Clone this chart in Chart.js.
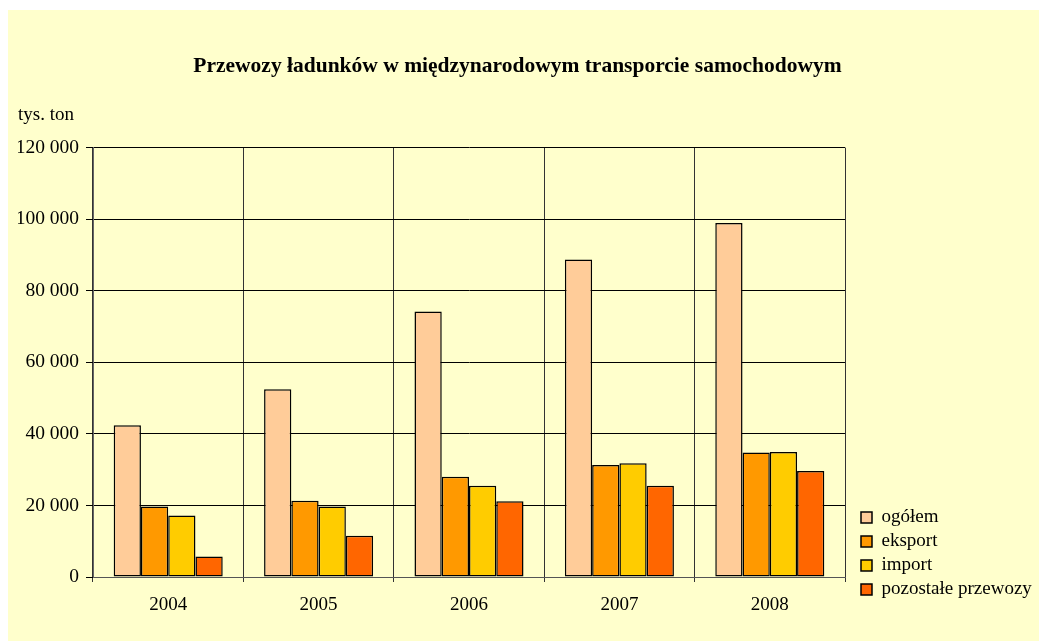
<!DOCTYPE html>
<html>
<head>
<meta charset="utf-8">
<script src="https://cdn.jsdelivr.net/npm/chart.js@4/dist/chart.umd.min.js"></script>
<style>
  html, body { margin: 0; padding: 0; background: #ffffff; overflow: hidden; }
  #panel { position: absolute; left: 8px; top: 10px; width: 1031px; height: 631px; background: #FFFFCC; }
  #c { display: block; }
</style>
</head>
<body>
<div id="panel"><canvas id="c" width="1031" height="631"></canvas></div>
<script>
const titleText = 'Przewozy ładunków w międzynarodowym transporcie samochodowym';
const unitText = 'tys. ton';
const years = ['2004', '2005', '2006', '2007', '2008'];
const seriesNames = ['ogółem', 'eksport', 'import', 'pozostałe przewozy'];
const ogolem = [42400, 52500, 74200, 88700, 98900];
const eksport = [19700, 21300, 28000, 31300, 34800];
const importy = [17200, 19700, 25500, 31800, 34900];
const pozostale = [5700, 11500, 21200, 25500, 29600];
const yTicks = [0, 20000, 40000, 60000, 80000, 100000, 120000];

const colors = ['#FFCC99', '#FF9900', '#FFCC00', '#FF6600'];
const seriesValues = [ogolem, eksport, importy, pozostale];
const serif = "'Liberation Serif', 'Times New Roman', serif";

function fmt(v) { return String(v).replace(/\B(?=(\d{3})+(?!\d))/g, ' '); }

const legendShift = {
  id: 'legendShift',
  afterLayout(chart) {
    const l = chart.legend;
    if (l) {
      const dx = 11, dy = -37;
      l.left += dx;
      l.right = chart.width;
      l.top += dy; l.bottom += dy;
    }
  }
};

new Chart(document.getElementById('c'), {
  type: 'bar',
  data: {
    labels: years,
    datasets: seriesNames.map((n, i) => ({
      label: n,
      data: seriesValues[i],
      backgroundColor: colors[i],
      borderColor: '#000000',
      borderWidth: 1.5,
      borderSkipped: false,
      categoryPercentage: 0.725,
      barPercentage: 1.0
    }))
  },
  options: {
    responsive: false,
    animation: false,
    devicePixelRatio: 1,
    layout: { padding: { left: 10, right: 22, top: 0, bottom: 0 } },
    plugins: {
      title: {
        display: true,
        text: titleText,
        color: '#000',
        font: { family: serif, size: 21.5, weight: 'bold', lineHeight: 1.2 },
        padding: { top: 44, bottom: 0 }
      },
      subtitle: {
        display: true,
        text: unitText,
        align: 'start',
        color: '#000',
        font: { family: serif, size: 19, lineHeight: 1.2 },
        padding: { top: 24, bottom: 21 }
      },
      legend: {
        display: true,
        position: 'right',
        align: 'end',
        maxWidth: 172,
        labels: {
          color: '#000',
          font: { family: serif, size: 19 },
          boxWidth: 11,
          boxHeight: 11,
          padding: 5
        }
      },
      tooltip: { enabled: false }
    },
    scales: {
      x: {
        offset: true,
        grid: { display: true, offset: true, color: '#333333', lineWidth: 1, tickLength: 5, drawOnChartArea: true },
        border: { display: true, color: '#555555', width: 1 },
        ticks: { color: '#000', font: { family: serif, size: 19 }, padding: 12 },
        afterFit(scale) { scale.height = 64; }
      },
      y: {
        min: 0,
        max: 120000,
        afterBuildTicks(scale) { scale.ticks = yTicks.map(v => ({ value: v })); },
        grid: { color: '#000000', lineWidth: 1, tickLength: 7 },
        border: { display: true, color: '#666666', width: 1 },
        ticks: { color: '#000', font: { family: serif, size: 19.5 }, padding: 7, callback: (v) => fmt(v) },
        afterFit(scale) { scale.width = 75; }
      }
    }
  },
  plugins: [legendShift]
});
</script>
</body>
</html>
